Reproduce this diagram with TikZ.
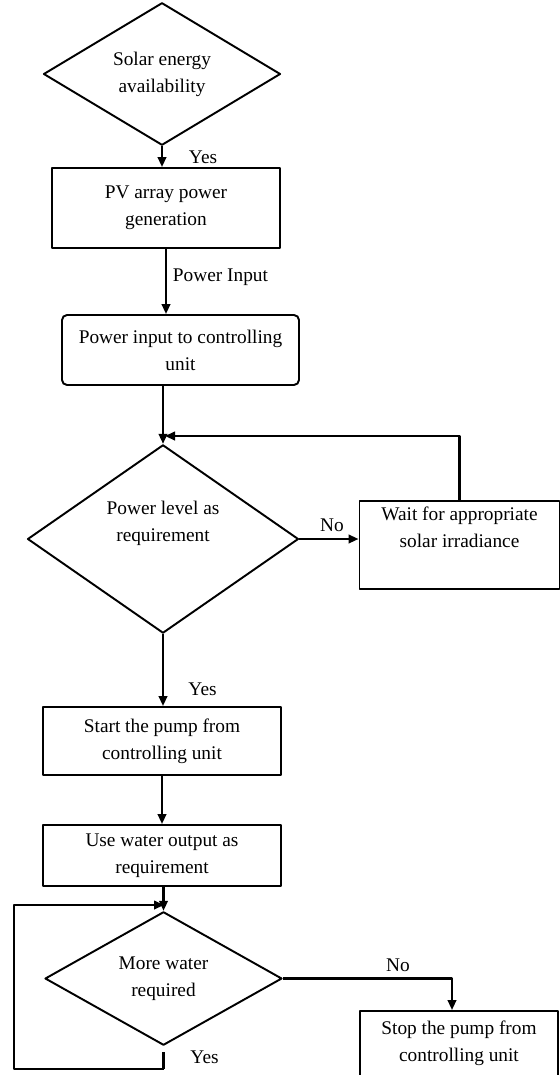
\documentclass[tikz,border=0pt]{standalone}
\usepackage{fontspec}
\setmainfont{Liberation Serif}
\usetikzlibrary{shapes.geometric,arrows.meta}
\begin{document}
\begin{tikzpicture}[x=0.02cm, y=-0.02cm, font=\rmfamily\fontsize{11}{15.4}\selectfont, line join=round,
			>={Triangle[length=0.2cm, width=0.17cm]},
			dmd/.style={draw, diamond, line width=1.1pt, inner sep=0pt, align=center},
			blk/.style={draw, rectangle, line width=1.1pt, inner sep=0pt, align=center},
			flow/.style={->, line width=1.3pt}]
			\clip (0,0) rectangle (560,1075);
			\node[dmd, minimum width=4.74cm, minimum height=2.64cm] (sun) at (162,74) {Solar energy\\availability};
			\node[blk, minimum width=4.56cm, minimum height=1.6cm] (pv) at (166,208) {PV array power\\generation};
			\node[blk, rounded corners=0.1cm, minimum width=4.74cm, minimum height=1.4cm] (ctrl) at (180.5,350) {Power input to controlling\\unit};
			\node[dmd, minimum width=5.42cm, minimum height=3.44cm] (lvl) at (163,539) {Power level as\\requirement\\\strut};
			\node[blk, minimum width=4cm, minimum height=1.76cm] (wait) at (459.5,545) {Wait for appropriate\\solar irradiance\\\strut};
			\node[blk, minimum width=4.76cm, minimum height=1.36cm] (start) at (162,741) {Start the pump from\\controlling unit};
			\node[blk, minimum width=4.76cm, minimum height=1.22cm] (use) at (162,855.5) {Use water output as\\requirement};
			\node[dmd, minimum width=4.74cm, minimum height=2.1cm] (more) at (163.5,978.5) {More water\\required};
			\node[blk, minimum width=3.96cm, minimum height=1.3cm] (stop) at (459,1043.5) {Stop the pump from\\controlling unit};
			% joints of the two loops
			\coordinate (j1) at (165,436);
			\coordinate (j2) at (164,905);
			\coordinate (lp) at (14,1069);
			\draw[flow] (sun.south) -- (sun.south |- pv.north) node[pos=0.54, right=0.4cm] {Yes};
			\draw[flow] (pv.south) -- (pv.south |- ctrl.north) node[pos=0.43, right] {Power Input};
			\draw[flow] (lvl.north |- ctrl.south) -- (lvl.north);
			\draw[flow] (lvl.east) -- (lvl.east -| wait.west) node[pos=0.55, above] {No};
			\draw[flow] (wait.north) |- (j1);
			\draw[flow] (lvl.south) -- (lvl.south |- start.north) node[pos=0.76, right=0.37cm] {Yes};
			\draw[flow] (start.south) -- (start.south |- use.north);
			\draw[flow] (more.north |- use.south) -- (more.north);
			\draw[flow] (more.east) -| ([xshift=-0.14cm]stop.north) node[pos=0.34, above] {No};
			\draw[line width=1.3pt, shorten <=0.12cm] (more.south) -- (more.south |- lp) node[pos=0.5, right=0.4cm] {Yes};
			\draw[flow] (more.south |- lp) -- (lp) |- (j2);
		\end{tikzpicture}
\end{document}
